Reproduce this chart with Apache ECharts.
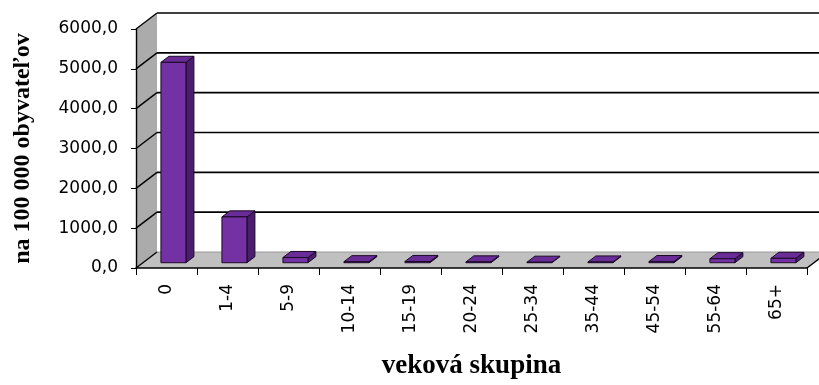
<!DOCTYPE html>
<html><head><meta charset="utf-8">
<script src="https://cdn.jsdelivr.net/npm/echarts@6/dist/echarts.min.js"></script>
<style>html,body{margin:0;padding:0;background:#fff}#c{width:819px;height:385px}</style>
</head><body><div id="c"></div>
<script>
const categories = ['0','1-4','5-9','10-14','15-19','20-24','25-34','35-44','45-54','55-64','65+'];
const values = [5030, 1150, 130, 25, 30, 20, 12, 18, 28, 100, 110];
const yTicks = [0, 1000, 2000, 3000, 4000, 5000, 6000];

const DX = 21, DY = -16;     // depth offset of the back wall
const F0 = 0.33, F1 = 0.71;  // bar depth (front, back) fraction
const FONT = 'DejaVu Sans';
const SERIF = 'Liberation Serif';

function renderWalls(params, api) {
  const cs = params.coordSys;
  const x0 = cs.x, x1 = cs.x + cs.width;
  const yb = api.coord([0, yTicks[0]])[1];
  const yt = api.coord([0, yTicks[yTicks.length - 1]])[1];
  const ch = [];
  ch.push({type: 'rect', shape: {x: x0 + DX, y: yt + DY, width: cs.width + 40, height: yb - yt}, style: {fill: '#ffffff'}});
  ch.push({type: 'polygon', shape: {points: [[x0, yb], [x0, yt], [x0 + DX, yt + DY], [x0 + DX, yb + DY]]}, style: {fill: '#ABABAB'}});
  ch.push({type: 'polygon', shape: {points: [[x0, yb], [x1, yb], [x1 + DX, yb + DY], [x0 + DX, yb + DY]]}, style: {fill: '#C0C0C0'}});
  yTicks.forEach(function (v) {
    const y = api.coord([0, v])[1];
    if (v > yTicks[0]) {
      ch.push({type: 'line', shape: {x1: x0 + DX, y1: y + DY, x2: x1 + DX + 40, y2: y + DY}, style: {stroke: '#000', lineWidth: 1.6}});
    } else {
      ch.push({type: 'line', shape: {x1: x0 + DX, y1: y + DY, x2: x1 + DX + 40, y2: y + DY}, style: {stroke: '#9a9a9a', lineWidth: 1}});
    }
    ch.push({type: 'line', shape: {x1: x0, y1: y, x2: x0 + DX, y2: y + DY}, style: {stroke: '#000', lineWidth: 1.4}});
  });
  ch.push({type: 'line', shape: {x1: x1, y1: yb, x2: x1 + DX, y2: yb + DY}, style: {stroke: '#000', lineWidth: 1.4}});
  return {type: 'group', children: ch};
}

function renderBar(params, api) {
  const i = api.value(0), v = api.value(1);
  const top = api.coord([i, v]), base = api.coord([i, 0]);
  const bw = api.size([1, 0])[0];
  const w = bw * 0.41;
  const xl = top[0] - w / 2, xr = top[0] + w / 2;
  const yt = top[1], yb = base[1];
  const ax = DX * F0, ay = DY * F0, bx = DX * F1, by = DY * F1;
  const st = {stroke: '#1a0a26', lineWidth: 1, lineJoin: 'round'};
  return {type: 'group', children: [
    {type: 'polygon', shape: {points: [[xr + ax, yt + ay], [xr + ax, yb + ay], [xr + bx, yb + by], [xr + bx, yt + by]]}, style: Object.assign({fill: '#4B1D6E'}, st)},
    {type: 'polygon', shape: {points: [[xl + ax, yt + ay], [xr + ax, yt + ay], [xr + bx, yt + by], [xl + bx, yt + by]]}, style: Object.assign({fill: '#6A2C97'}, st)},
    {type: 'polygon', shape: {points: [[xl + ax, yt + ay], [xr + ax, yt + ay], [xr + ax, yb + ay], [xl + ax, yb + ay]]}, style: Object.assign({fill: '#7431A3'}, st)}
  ]};
}

const chart = echarts.init(document.getElementById('c'), null, {renderer: 'canvas'});
chart.setOption({
  backgroundColor: '#ffffff',
  animation: false,
  grid: {left: 136, right: 12, top: 29, bottom: 116, containLabel: false},
  xAxis: {
    type: 'category', data: categories, boundaryGap: true, z: 10,
    axisLine: {show: true, lineStyle: {color: '#000', width: 1.5}},
    axisTick: {show: true, length: 7, lineStyle: {color: '#000', width: 1}},
    axisLabel: {rotate: 90, margin: 16, color: '#000', fontFamily: FONT, fontSize: 17, interval: 0},
    splitLine: {show: false},
    name: 'veková skupina', nameLocation: 'middle', nameGap: 85,
    nameTextStyle: {fontFamily: SERIF, fontWeight: 'bold', fontSize: 27, color: '#000'}
  },
  yAxis: {
    type: 'value', min: yTicks[0], max: yTicks[yTicks.length - 1], interval: yTicks[1] - yTicks[0], z: 10,
    axisLine: {show: true, lineStyle: {color: '#000', width: 1.4}},
    axisTick: {show: true, length: 5, lineStyle: {color: '#000', width: 1}},
    axisLabel: {margin: 18, color: '#000', fontFamily: FONT, fontSize: 17,
      formatter: function (v) { return v.toFixed(1).replace('.', ','); }},
    splitLine: {show: false},
    name: 'na 100 000 obyvateľov', nameLocation: 'middle', nameGap: 101, nameRotate: 90,
    nameTextStyle: {fontFamily: SERIF, fontWeight: 'bold', fontSize: 24, color: '#000'}
  },
  series: [
    {type: 'custom', renderItem: renderWalls, data: [[0, 0]], z: 1, silent: true, clip: false},
    {type: 'custom', renderItem: renderBar, data: categories.map(function (c, i) { return [i, values[i]]; }),
     encode: {x: 0, y: 1}, z: 2, clip: false}
  ]
});
</script></body></html>
